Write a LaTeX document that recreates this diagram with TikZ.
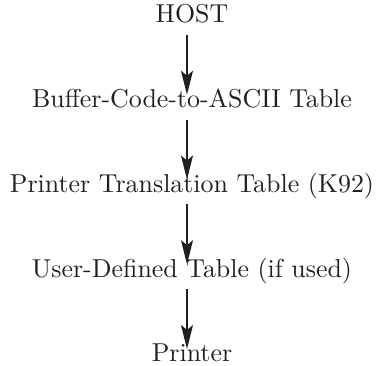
\documentclass[tikz,border=0pt]{standalone}
\usepackage{fontspec}
\usepackage{tikz}
\usetikzlibrary{arrows.meta}
\newfontfamily\labelfont{lmroman10-regular.otf}
\definecolor{ink}{RGB}{35,31,32}

\begin{document}
\begin{tikzpicture}[->,>={Stealth[length=24pt,width=12pt,inset=5pt]},line width=2pt,
                    node distance=84.75pt,color=ink]
  \tikzstyle{stage}=[inner sep=0pt,text height=17.5pt,text depth=6pt,
                     font=\labelfont\fontsize{25.9}{30}\selectfont]

  \useasboundingbox (0,0) rectangle (378pt,-366pt);

  \node[stage]   (host)  [anchor=base] at (192pt,-23pt) {HOST};
  \node[stage]   (ascii)   [below of=host]    {Buffer-Code-to-ASCII Table};
  \node[stage]   (k92)     [below of=ascii]   {Printer Translation Table (K92)};
  \node[stage]   (user)    [below of=k92]     {User-Defined Table (if used)};
  \node[stage]   (printer) [below of=user]    {Printer};

  \path ([xshift=-5pt,yshift=-12pt]host.base)  edge ([xshift=-5pt,yshift=13pt]ascii.base)
        ([xshift=-5pt,yshift=-12pt]ascii.base) edge ([xshift=-5pt,yshift=13pt]k92.base)
        ([xshift=-5pt,yshift=-12pt]k92.base)   edge ([xshift=-5pt,yshift=13pt]user.base)
        ([xshift=-5pt,yshift=-12pt]user.base)  edge ([xshift=-5pt,yshift=13pt]printer.base);
\end{tikzpicture}
\end{document}
